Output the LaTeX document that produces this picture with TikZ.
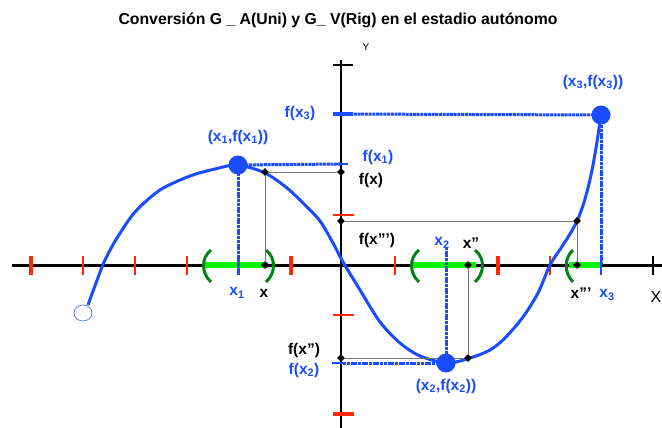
\documentclass[tikz,border=0pt]{standalone}
\usepackage{fontspec}
\setmainfont{Liberation Sans}
\usetikzlibrary{shapes.geometric}
\definecolor{cblue}{RGB}{25,75,255}
\definecolor{cgreen}{RGB}{0,245,0}
\definecolor{dgreen}{RGB}{0,130,20}
\definecolor{cred}{RGB}{255,40,0}
\newcommand{\xsub}[1]{x\textsubscript{#1}}
\newcommand{\lblfont}{\bfseries\fontsize{15.5}{15.5}\selectfont}

\begin{document}
\begin{tikzpicture}[
  x=1pt, y=-1pt,
  axis/.style={line width=3pt},
  rtick/.style={draw=cred, line width=2pt},
  rtickb/.style={draw=cred, line width=4pt},
  proj/.style={draw=black!55, line width=1pt},
  bproj/.style={draw=cblue, line width=3pt, dash pattern=on 3pt off 0.7pt},
  dia/.style={diamond, fill=black, minimum size=8pt, inner sep=0pt},
  bdot/.style={circle, fill=cblue, minimum size=19pt, inner sep=0pt},
  blbl/.style={text=cblue, font=\lblfont, inner sep=0pt},
  klbl/.style={text=black, font=\lblfont, inner sep=0pt},
  seg/.style={draw=cgreen, line width=5.5pt},
  brk/.style={draw=dgreen, line width=3pt},
  curve/.style={draw=cblue, line width=3pt, line join=round},
]
  \useasboundingbox (0,0) rectangle (662,428);

  \node[font=\bfseries\fontsize{15.8}{15.8}\selectfont] (title) at (338,20)
    {Conversión G \_ A(Uni) y G\_ V(Rig) en el estadio autónomo};

  % axes
  \coordinate (xl) at (12,265);
  \coordinate (xr) at (662,265);
  \coordinate (yt) at (341,60);
  \coordinate (yb) at (341,428);
  \draw[axis] (xl) -- (xr);
  \draw[line width=2pt] (yt) -- (yb);
  \draw[line width=2pt] (653,256) -- (653,275);
  \draw[line width=2pt] (333,65) -- (353,65);
  \node[font=\fontsize{10}{10}\selectfont] (ylab) at (366,47) {Y};
  \node[font=\fontsize{16}{16}\selectfont] (xlab) at (656,297) {X};

  % green intervals
  \draw[seg] (204,265) -- (268,265);
  \draw[seg] (413,265) -- (476,265);
  \draw[seg] (569,265) -- (601,265);

  % red ticks
  \foreach \t in {83,135,187,395,550}
    \draw[rtick] (\t,256) -- (\t,275);
  \foreach \t in {31,291,498}
    \draw[rtickb] (\t,256) -- (\t,275);
  \draw[rtick] (333,215) -- (354,215);
  \draw[rtick] (333,315) -- (354,315);
  \draw[rtickb] (333,414) -- (354,414);

  % points of the curve
  \coordinate (P1) at (238,165);
  \coordinate (P2) at (446,363);
  \coordinate (P3) at (601,115);
  \coordinate (X1) at (238,265);
  \coordinate (X2) at (446,265);
  \coordinate (X3) at (601,265);
  \coordinate (F1) at (341,164);
  \coordinate (F2) at (341,363);
  \coordinate (F3) at (341,114);

  % blue projections
  \draw[bproj] (X1) -- (P1);
  \draw[bproj] (P1) -- (F1);
  \draw[bproj] (446,247) -- (P2);
  \draw[bproj] (P2) -- (F2);
  \draw[bproj] (X3) -- (P3);
  \draw[bproj] (P3) -- (F3);
  \draw[draw=cblue, line width=3pt] (238,256) -- (238,275);
  \draw[draw=cblue, line width=2pt] (601,256) -- (601,275);
  \draw[draw=cblue, line width=3.5pt] (333,114) -- (353,114);
  \draw[draw=cblue, line width=2pt] (335,164) -- (348,164);
  \draw[draw=cblue, line width=2pt] (332,363) -- (345,363);

  % brackets
  \draw[brk] (211,250) .. controls (201,258) and (201,273) .. (211,282);
  \draw[brk] (266,250) .. controls (276,258) and (276,273) .. (266,282);
  \draw[brk] (419,250) .. controls (409,258) and (409,273) .. (419,282);
  \draw[brk] (475,250) .. controls (485,258) and (485,273) .. (475,282);
  \draw[brk] (573,250) .. controls (564,258) and (564,273) .. (573,282);

  % the function
  \draw[curve] plot[smooth, tension=0.5] coordinates {
    (88,305) (96,283) (105,260) (117,238) (135,212) (160,190) (190,176)
    (215,169) (238,165) (265,173) (287,188) (305,205) (320,221) (333,243)
    (343,262) (360,290) (380,322) (400,343) (420,356) (447,363) (470,358)
    (490,350) (505,338) (523,317) (538,293) (550,265) (561,248) (570,234)
    (578,219) (585,199) (591,175) (596,148) (601,115)};
  \draw[draw=cblue!70, line width=0.8pt] (83,313) ellipse (9 and 8);

  % black projections
  \node[dia] (xa) at (265,265) {};
  \node[dia] (pa) at (265,172) {};
  \node[dia] (fa) at (341,172) {};
  \node[dia] (xc) at (577,265) {};
  \node[dia] (pc) at (577,221) {};
  \node[dia] (fc) at (341,221) {};
  \node[dia] (xb) at (468,265) {};
  \node[dia] (pb) at (468,358) {};
  \node[dia] (fb) at (341,358) {};
  \draw[proj] (xa) -- (pa) -- (fa);
  \draw[proj] (xc) -- (pc) -- (fc);
  \draw[proj] (xb) -- (pb) -- (fb);

  % big dots
  \node[bdot] (d1) at (P1) {};
  \node[bdot] (d2) at (P2) {};
  \node[bdot] (d3) at (P3) {};

  % labels
  \node[blbl] (l1) at (238,137) {(\xsub{1},f(\xsub{1}))};
  \node[blbl] (l2) at (446,386) {(\xsub{2},f(\xsub{2}))};
  \node[blbl] (l3) at (593,82) {(\xsub{3},f(\xsub{3}))};
  \node[blbl] (lf3) at (300,113) {f(\xsub{3})};
  \node[blbl] (lf1) at (378,157) {f(\xsub{1})};
  \node[klbl] (lf) at (371,180) {f(x)};
  \node[klbl] (lfc) at (377,240) {f(x”’)};
  \node[blbl] (lx2) at (442,243) {\xsub{2}};
  \node[klbl] (lxb) at (471,243) {x”};
  \node[blbl] (lx1) at (237,293) {\xsub{1}};
  \node[klbl] (lx) at (264,293) {x};
  \node[klbl] (lxc) at (581,293) {x”’};
  \node[blbl] (lx3) at (607,295) {\xsub{3}};
  \node[klbl] (lfb) at (304,350) {f(x”)};
  \node[blbl] (lf2) at (304,370) {f(\xsub{2})};
\end{tikzpicture}
\end{document}
